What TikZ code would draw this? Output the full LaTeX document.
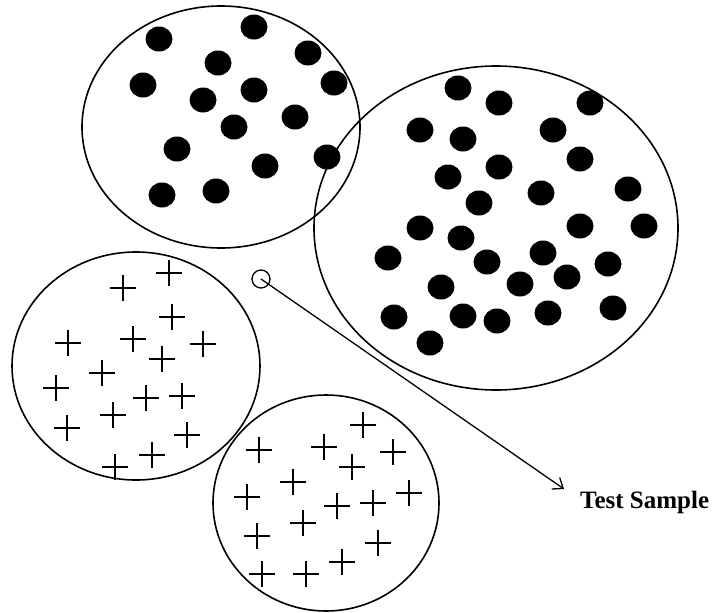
\documentclass[tikz,border=0pt]{standalone}
\usepackage{fontspec}
\setmainfont{Liberation Serif}
\usepackage{tikz}
\usetikzlibrary{arrows.meta}

\tikzset{
  cluster/.style={line width=1.6pt},
  blob/.style={fill=black},
  cross/.style={line width=2.1pt},
}

\begin{document}
\begin{tikzpicture}[x=1pt,y=-1pt]
\useasboundingbox (0,0) rectangle (715,613);

% the four classes
\draw [cluster] (221,127) ellipse [x radius=139pt, y radius=121pt];
\draw [cluster] (496,228) ellipse [x radius=182pt, y radius=162pt];
\draw [cluster] (136,366) ellipse [x radius=124pt, y radius=114pt];
\draw [cluster] (326,503) ellipse [x radius=113pt, y radius=108pt];

% dots, upper left
\foreach \x/\y in {159/39,254/27,308/53,218/63,143/85,254/90,203/100,334/83,
  234/127,295/117,177/149,327/157,265/166,162/195,216/191}
  \fill [blob] (\x,\y) ellipse [x radius=13.5pt, y radius=12.5pt];

% dots, right
\foreach \x/\y in {458/88,499/103,590/103,420/130,463/139,553/130,580/159,
  448/177,499/167,541/193,628/189,479/203,420/228,461/238,580/226,644/226,
  388/258,487/262,543/253,608/264,441/287,520/284,567/277,394/317,463/316,
  497/321,548/313,613/308,430/343}
  \fill [blob] (\x,\y) ellipse [x radius=13.5pt, y radius=12.5pt];

% crosses, left
\foreach \x/\y in {169/273,123/288,172/317,68/343,133/339,203/344,162/359,
  102/373,56/388,146/398,182/396,113/415,67/428,187/435,152/455,115/467}
  \draw [cross] (\x,\y) +(-13,0) -- +(13,0) +(0,-13) -- +(0,13);

% crosses, bottom
\foreach \x/\y in {363/425,259/450,324/447,393/452,352/467,293/482,247/497,
  337/506,373/503,409/493,303/523,257/536,378/543,342/562,262/574,306/574}
  \draw [cross] (\x,\y) +(-13,0) -- +(13,0) +(0,-13) -- +(0,13);

% test sample
\node [draw, circle, line width=1.3pt, minimum size=18pt, inner sep=0pt] (test) at (261,279) {};
\coordinate (tip) at (564,489);
\node [anchor=base west, inner sep=0pt, font=\fontsize{25}{28}\selectfont\bfseries] (lbl) at (580,508) {Test Sample};
\draw [line width=1.3pt, -{Straight Barb[length=9pt,width=14pt]}] (test.center) -- (tip);

\end{tikzpicture}
\end{document}
